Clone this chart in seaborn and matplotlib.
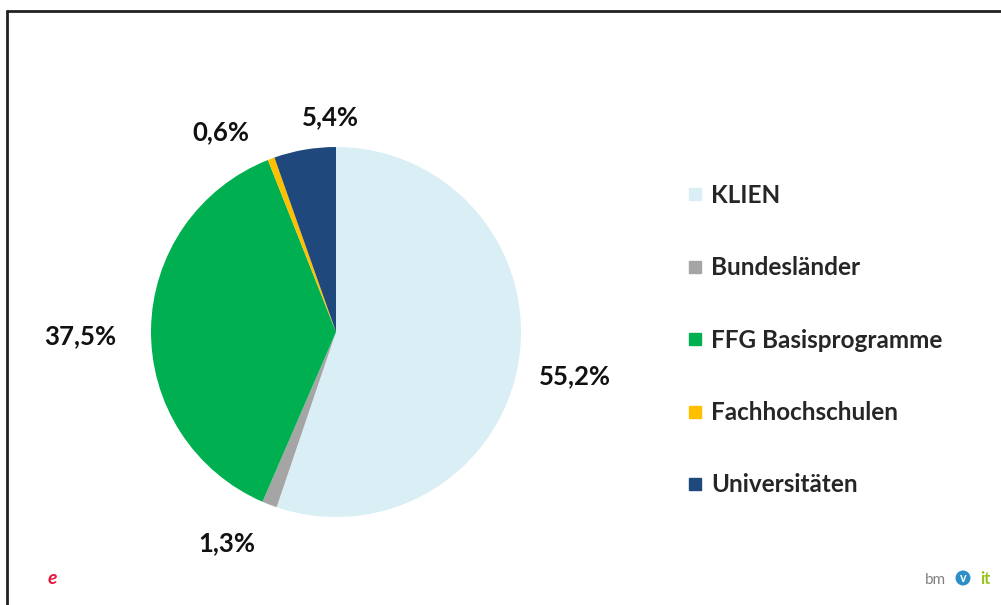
"""
Kreisdiagramm: Anteile der Förderquellen
"""

import numpy as np
import matplotlib.pyplot as plt
import seaborn as sns
from matplotlib.lines import Line2D

categories = ['KLIEN', 'Bundesländer', 'FFG Basisprogramme', 'Fachhochschulen', 'Universitäten']
shares = [55.2, 1.3, 37.5, 0.6, 5.4]
share_labels = ['55,2%', '1,3%', '37,5%', '0,6%', '5,4%']

colors = ['#d9eef5', '#a5a5a5', '#00b050', '#ffc000', '#1f497d']

# label positions (pie radius = 1)
label_xy = [(1.29, -0.24), (-0.59, -1.14), (-1.38, -0.02), (-0.62, 1.08), (-0.03, 1.16)]

sns.set_theme(style="white")
plt.rcParams['font.family'] = ['Lato', 'DejaVu Sans']

W, H = 1001, 605
cx, cy, r = 336, 332, 185

fig = plt.figure(figsize=(W / 100, H / 100), dpi=100)
fig.patch.set_facecolor('white')
ax = fig.add_axes([0, 0, 1, 1])

wedges, _ = ax.pie(shares, colors=colors, startangle=90, counterclock=False,
                   radius=1.0, center=(0, 0), frame=True,
                   wedgeprops=dict(linewidth=0))
ax.set_xlim(-cx / r, (W - cx) / r)
ax.set_ylim(-(H - cy) / r, cy / r)
ax.set_aspect('equal')
ax.axis('off')

for (x, y), txt in zip(label_xy, share_labels):
    ax.text(x, y, txt, ha='center', va='center', fontsize=18.5,
            fontweight='bold', color='#111111')

handles = [Line2D([0], [0], marker='s', linestyle='', markersize=8,
                  markerfacecolor=c, markeredgecolor=c) for c in colors]
fig.legend(handles, categories, loc='upper left',
           bbox_to_anchor=(688 / W, 1 - 184 / H), frameon=False,
           prop=dict(weight='bold', size=17.5),
           labelspacing=2.03, handlelength=0.6, handletextpad=0.35,
           borderpad=0, borderaxespad=0)

# frame lines (top / left)
fig.add_artist(Line2D([7 / W, 1], [1 - 11 / H, 1 - 11 / H], color='#222222', lw=2))
fig.add_artist(Line2D([7 / W, 7 / W], [0, 1 - 11 / H], color='#222222', lw=2))

# logos
fig.text(52 / W, 1 - 578 / H, 'e', color='#e3173e', fontsize=14,
         fontstyle='italic', fontweight='bold', ha='center', va='center')
fig.text(935 / W, 1 - 580 / H, 'bm', color='#808080', fontsize=11,
         ha='center', va='center')
fig.text(963 / W, 1 - 578 / H, 'v', color='white', fontsize=9, fontweight='bold',
         ha='center', va='center',
         bbox=dict(boxstyle='circle,pad=0.12', fc='#2e8fc8', ec='none'))
fig.text(985 / W, 1 - 579 / H, 'it', color='#9ac31c', fontsize=12, fontweight='bold',
         ha='center', va='center')

plt.savefig('out.png', dpi=100)
